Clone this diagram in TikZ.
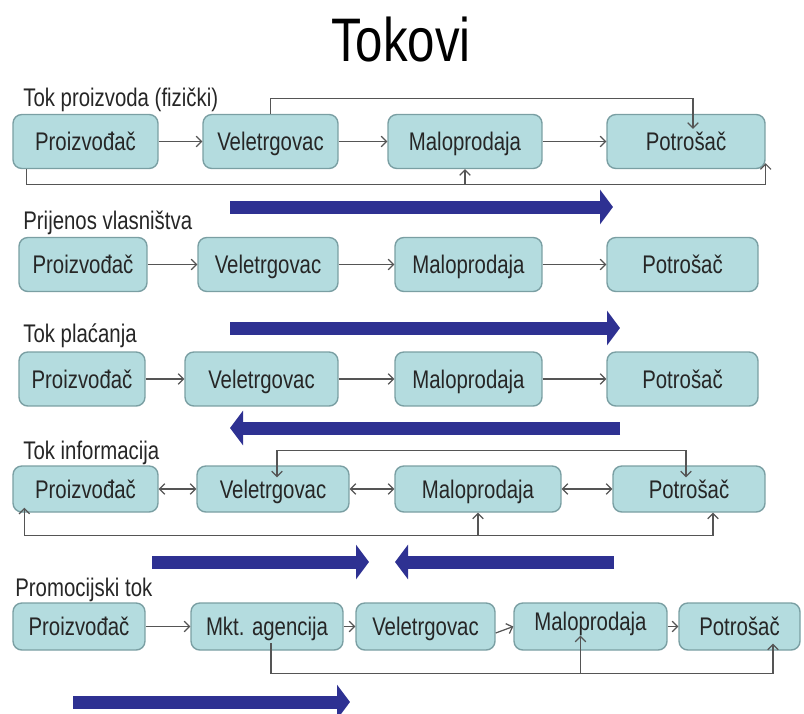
\documentclass[tikz,border=0pt]{standalone}
\usepackage{fontspec}
\setmainfont{Liberation Sans}[FakeStretch=0.8]
\usetikzlibrary{arrows.meta}

\definecolor{boxfill}{HTML}{B4DCDF}
\definecolor{boxline}{HTML}{7A9FA3}
\definecolor{linkgray}{HTML}{555555}
\definecolor{flowblue}{HTML}{2E3192}

\begin{document}
\begin{tikzpicture}[x=0.02cm,y=-0.02cm,
  box/.style={draw=boxline,fill=boxfill,rounded corners=5pt,line width=0.8pt,minimum height=1.08cm,inner sep=0pt,text height=10.5pt,text depth=0pt,font=\fontsize{14.5}{16}\selectfont,text=black!85},
  rowlabel/.style={anchor=base west,inner sep=0pt,font=\fontsize{14.5}{16}\selectfont,text=black!85},
  link/.style={draw=linkgray,line width=0.7pt,>={Straight Barb[length=3pt,width=6pt]}},
  flowarrow/.style={draw=flowblue,line width=0.26cm,-{Triangle[length=0.26cm,width=0.68cm]}}]
\useasboundingbox (0,0) rectangle (804,713);

\node[anchor=base,inner sep=0pt,font=\fontsize{35}{40}\selectfont] (title) at (401,62) {Tokovi};

\node[rowlabel] (l1) at (23,107) {Tok proizvoda (fizički)};
\node[box,minimum width=2.9cm] (p1) at (85.5,141.5) {Proizvođač};
\node[box,minimum width=2.7cm] (v1) at (270.5,141.5) {Veletrgovac};
\node[box,minimum width=3.08cm] (m1) at (465,141.5) {Maloprodaja};
\node[box,minimum width=3.16cm] (c1) at (686,141.5) {Potrošač};
\draw[link,->] (p1) -- (v1);
\draw[link,->] (v1) -- (m1);
\draw[link,->] (m1) -- (c1);
\draw[link,->] (v1.north) -- ++(0,-15) -| ([xshift=0.14cm,yshift=-0.3cm]c1.north);
\draw[link,->] ([xshift=0.28cm]p1.south west) -- ++(0,15) coordinate (b1) -| ([yshift=0.12cm]c1.south east);
\draw[link,->] (b1 -| m1.south) -- (m1.south);
\draw[flowarrow] (230,207) -- (613,207);

\node[rowlabel] (l2) at (23,229) {Prijenos vlasništva};
\node[box,minimum width=2.56cm] (p2) at (83,264.5) {Proizvođač};
\node[box,minimum width=2.8cm] (v2) at (268,264.5) {Veletrgovac};
\node[box,minimum width=2.94cm] (m2) at (468.5,264.5) {Maloprodaja};
\node[box,minimum width=3.02cm] (c2) at (682.5,264.5) {Potrošač};
\draw[link,->] (p2) -- (v2);
\draw[link,->] (v2) -- (m2);
\draw[link,->] (m2) -- (c2);
\draw[flowarrow] (230,328) -- (620,328);

\node[rowlabel] (l3) at (23,342) {Tok plaćanja};
\node[box,minimum width=2.52cm] (p3) at (82,379) {Proizvođač};
\node[box,minimum width=3.06cm] (v3) at (261.5,379) {Veletrgovac};
\node[box,minimum width=2.94cm] (m3) at (468.5,379) {Maloprodaja};
\node[box,minimum width=3.02cm] (c3) at (682.5,379) {Potrošač};
\draw[link,->] (p3) -- (v3);
\draw[link,->] (v3) -- (m3);
\draw[link,->] (m3) -- (c3);
\draw[flowarrow] (620,428) -- (230,428);

\node[rowlabel] (l4) at (23,459) {Tok informacija};
\node[box,minimum width=2.9cm,minimum height=0.92cm] (p4) at (85.5,489) {Proizvođač};
\node[box,minimum width=3.04cm,minimum height=0.92cm] (v4) at (273,489) {Veletrgovac};
\node[box,minimum width=3.32cm,minimum height=0.92cm] (m4) at (478,489) {Maloprodaja};
\node[box,minimum width=3.04cm,minimum height=0.92cm] (c4) at (689,489) {Potrošač};
\draw[link,<->] (p4) -- (v4);
\draw[link,<->] (v4) -- (m4);
\draw[link,<->] (m4) -- (c4);
\draw[link,<->] ([xshift=0.08cm,yshift=-0.24cm]v4.north) -- ++(0,-27) -| ([xshift=-0.06cm,yshift=-0.24cm]c4.north);
\draw[link,<->] ([xshift=0.24cm,yshift=0.1cm]p4.south west) -- ++(0,28) coordinate (b4) -| ([xshift=0.48cm]c4.south);
\draw[link,->] (b4 -| m4.south) -- (m4.south);
\draw[flowarrow] (152,562) -- (369,562);
\draw[flowarrow] (614,562) -- (395,562);

\node[rowlabel] (l5) at (15,596) {Promocijski tok};
\node[box,minimum width=2.64cm,minimum height=0.94cm] (p5) at (79,626.5) {Proizvođač};
\node[box,minimum width=3.04cm,minimum height=0.94cm] (a5) at (267,626.5) {Mkt. agencija};
\node[box,minimum width=2.78cm,minimum height=0.94cm] (v5) at (425.5,626.5) {Veletrgovac};
\node[box,minimum width=3.06cm,minimum height=0.94cm] (m5) at (590.5,626.5) {\raisebox{0.1cm}{Maloprodaja}};
\node[box,minimum width=2.42cm,minimum height=0.94cm] (c5) at (739.5,626.5) {Potrošač};
\draw[link,->] (p5) -- (a5);
\draw[link,->] (a5) -- (v5);
\draw[link,->] ([yshift=-0.13cm]v5.east) -- (m5.west);
\draw[link,->] (m5) -- (c5);
\coordinate (m5b) at ([xshift=-0.2cm,yshift=0.3cm]m5.south);
\draw[link,->] ([xshift=0.08cm,yshift=0.15cm]a5.south) -- ++(0,30) coordinate (b5) -| ([xshift=0.67cm,yshift=0.14cm]c5.south);
\draw[link,->] (m5b |- b5) -- (m5b);
\draw[flowarrow] (73,702) -- (350,702);
\end{tikzpicture}
\end{document}
